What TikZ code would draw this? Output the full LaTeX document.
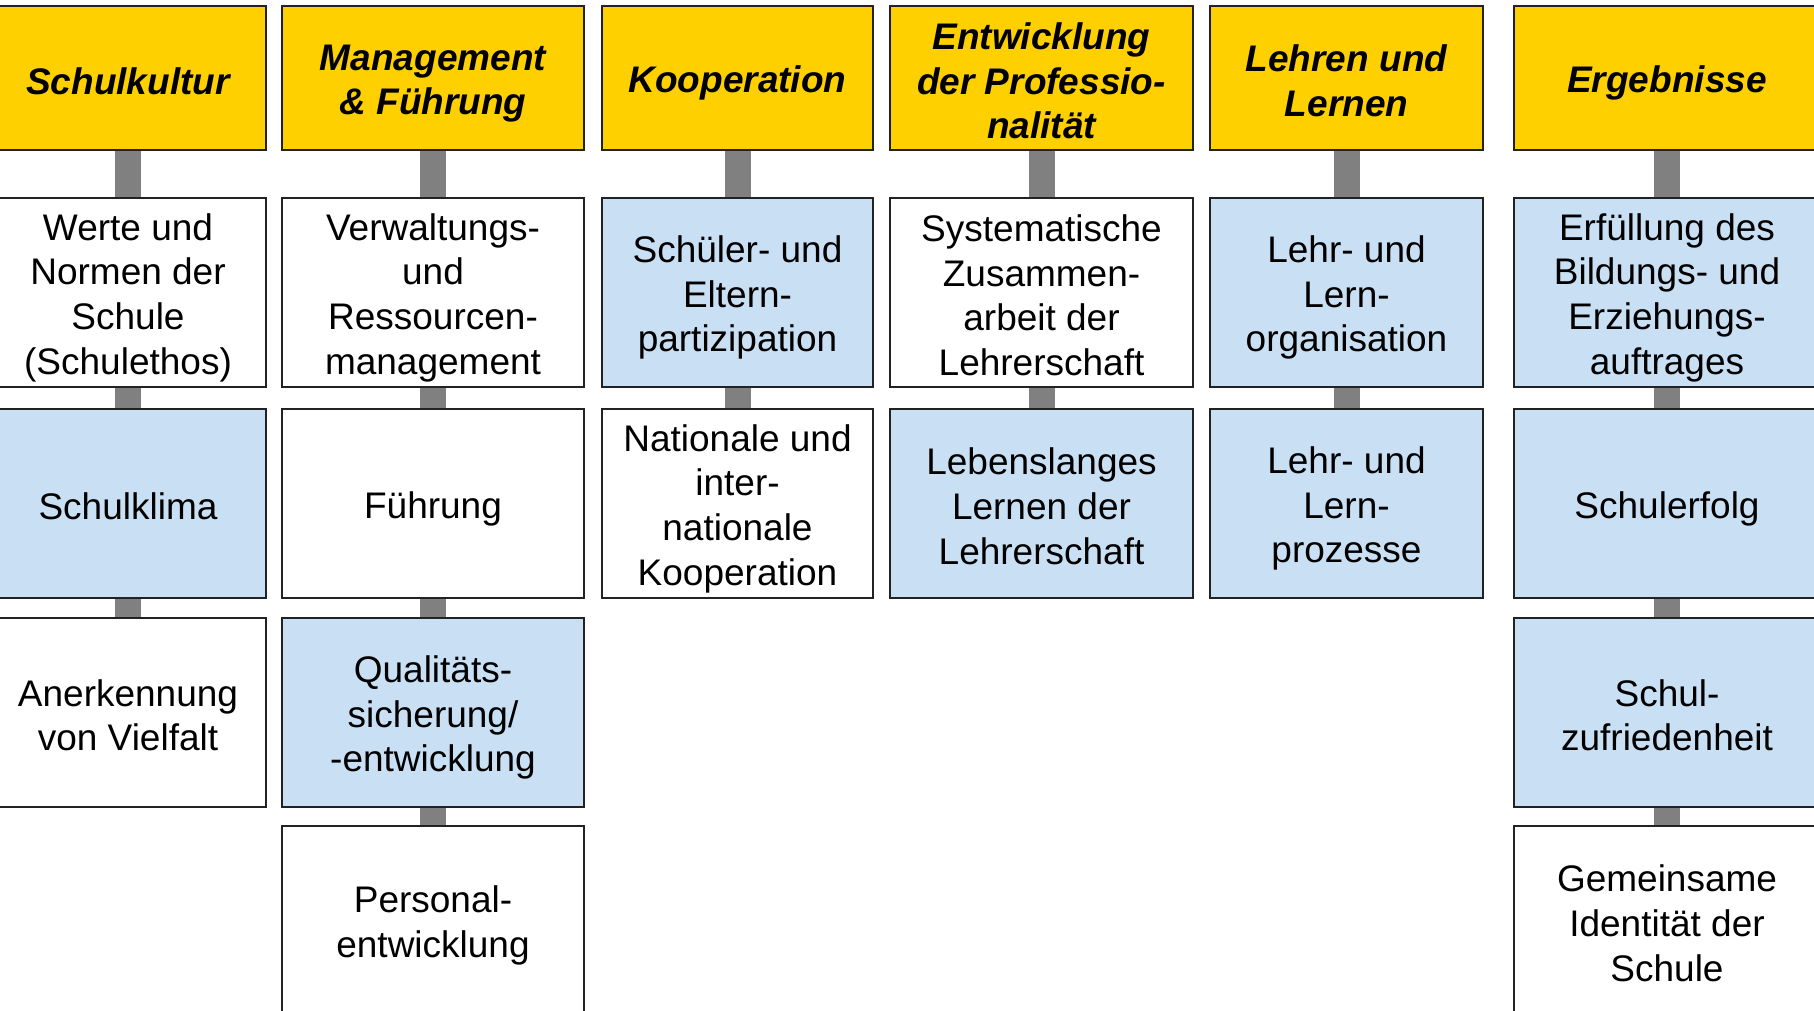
\documentclass[tikz,border=0pt]{standalone}
\usepackage{fontspec}
\setmainfont{Liberation Sans}
\definecolor{hdr}{HTML}{FFD000}
\definecolor{lblue}{HTML}{C9DFF3}
\definecolor{conngray}{HTML}{808080}
\definecolor{edgec}{HTML}{222222}
\newcommand{\tbeg}{\rule{0pt}{37pt}}
\newcommand{\tend}{\rule[-5pt]{0pt}{5pt}}
\begin{document}
\begin{tikzpicture}[x=1pt,y=-1pt,
  base/.style={draw=edgec, line width=1.3pt, minimum height=189pt, inner sep=0pt, align=center,
    font=\fontsize{37}{44.6}\selectfont},
  hdrbox/.style={base, fill=hdr, minimum height=144pt, font=\fontsize{37}{44.6}\selectfont\bfseries\itshape},
  wbox/.style={base, fill=white},
  bbox/.style={base, fill=lblue},
  cA/.style={minimum width=276pt},
  cB/.style={minimum width=302pt},
  cC/.style={minimum width=271pt},
  cD/.style={minimum width=303pt},
  cE/.style={minimum width=273pt},
  cF/.style={minimum width=306pt},
  conn/.style={draw=conngray, line width=26pt, shorten <=0.65pt, shorten >=0.65pt}]
\path[use as bounding box] (0,0) rectangle (1814,1010);
\clip (0,0) rectangle (1814,1010);
\fill[white] (0,0) rectangle (1814,1010);
% column 1
\node[hdrbox,cA] (a1) at (128,78) {\tbeg Schulkultur\tend};
\node[wbox,cA] (a2) at (128,292.5) {\tbeg Werte und\\Normen der\\Schule\\(Schulethos)\tend};
\node[bbox,cA] (a3) at (128,503.5) {\tbeg Schulklima\tend};
\node[wbox,cA] (a4) at (128,712.5) {\tbeg Anerkennung\\von Vielfalt\tend};
% column 2
\node[hdrbox,cB] (b1) at (433,78) {\tbeg Management\\\& Führung\tend};
\node[wbox,cB] (b2) at (433,292.5) {\tbeg Verwaltungs-\\und\\Ressourcen-\\management\tend};
\node[wbox,cB] (b3) at (433,503.5) {\tbeg Führung\tend};
\node[bbox,cB] (b4) at (433,712.5) {\tbeg Qualitäts-\\sicherung/\\-entwicklung\tend};
\node[wbox,cB] (b5) at (433,920.5) {\tbeg Personal-\\entwicklung\tend};
% column 3
\node[hdrbox,cC] (c1) at (737.5,78) {\tbeg Kooperation\tend};
\node[bbox,cC] (c2) at (737.5,292.5) {\tbeg Schüler- und\\Eltern-\\partizipation\tend};
\node[wbox,cC] (c3) at (737.5,503.5) {\tbeg Nationale und\\inter-\\nationale\\Kooperation\tend};
% column 4
\node[hdrbox,cD] (d1) at (1041.5,78) {\tbeg Entwicklung\\der Professio-\\nalität\tend};
\node[wbox,cD] (d2) at (1041.5,292.5) {\tbeg Systematische\\Zusammen-\\arbeit der\\Lehrerschaft\tend};
\node[bbox,cD] (d3) at (1041.5,503.5) {\tbeg Lebenslanges\\Lernen der\\Lehrerschaft\tend};
% column 5
\node[hdrbox,cE] (e1) at (1346.5,78) {\tbeg Lehren und\\Lernen\tend};
\node[bbox,cE] (e2) at (1346.5,292.5) {\tbeg Lehr- und\\Lern-\\organisation\tend};
\node[bbox,cE] (e3) at (1346.5,503.5) {\tbeg Lehr- und\\Lern-\\prozesse\tend};
% column 6
\node[hdrbox,cF] (f1) at (1667,78) {\tbeg Ergebnisse\tend};
\node[bbox,cF] (f2) at (1667,292.5) {\tbeg Erfüllung des\\Bildungs- und\\Erziehungs-\\auftrages\tend};
\node[bbox,cF] (f3) at (1667,503.5) {\tbeg Schulerfolg\tend};
\node[bbox,cF] (f4) at (1667,712.5) {\tbeg Schul-\\zufriedenheit\tend};
\node[wbox,cF] (f5) at (1667,920.5) {\tbeg Gemeinsame\\Identität der\\Schule\tend};
% connectors
\draw[conn] (a1.south) -- (a2.north);
\draw[conn] (a2.south) -- (a3.north);
\draw[conn] (a3.south) -- (a4.north);
\draw[conn] (b1.south) -- (b2.north);
\draw[conn] (b2.south) -- (b3.north);
\draw[conn] (b3.south) -- (b4.north);
\draw[conn] (b4.south) -- (b5.north);
\draw[conn] (c1.south) -- (c2.north);
\draw[conn] (c2.south) -- (c3.north);
\draw[conn] (d1.south) -- (d2.north);
\draw[conn] (d2.south) -- (d3.north);
\draw[conn] (e1.south) -- (e2.north);
\draw[conn] (e2.south) -- (e3.north);
\draw[conn] (f1.south) -- (f2.north);
\draw[conn] (f2.south) -- (f3.north);
\draw[conn] (f3.south) -- (f4.north);
\draw[conn] (f4.south) -- (f5.north);
\end{tikzpicture}
\end{document}
